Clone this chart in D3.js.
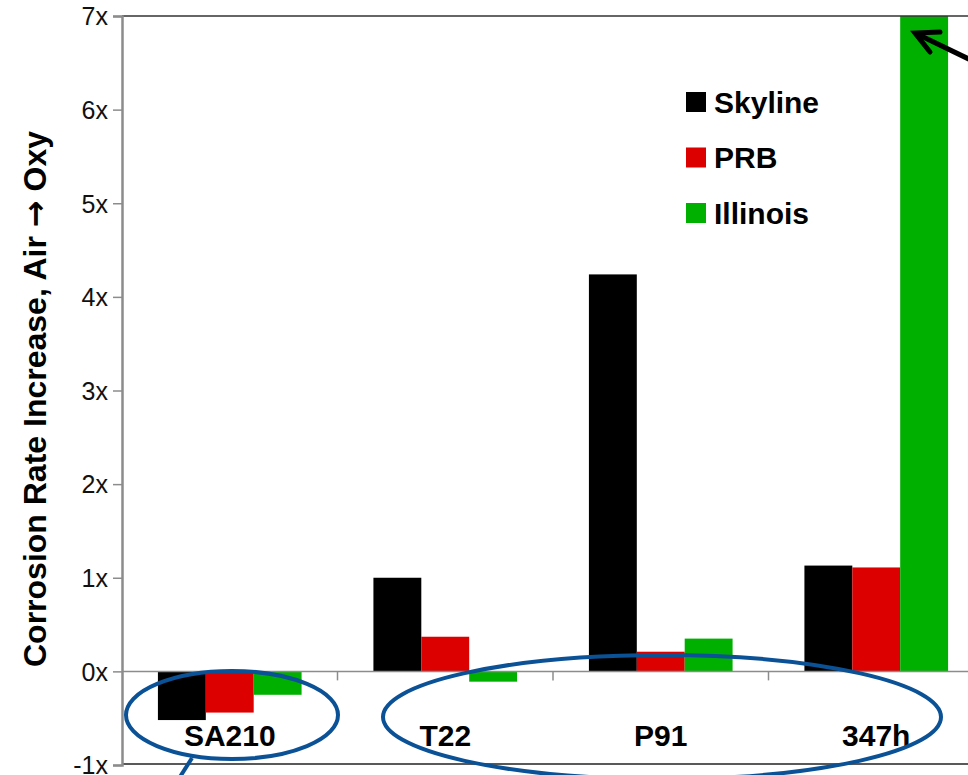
<!DOCTYPE html>
<html><head><meta charset="utf-8">
<script src="https://cdn.jsdelivr.net/npm/d3@7"></script>
<style>
html,body{margin:0;padding:0;background:#fff;}
svg{display:block;}
</style></head>
<body>
<svg id="c" width="968" height="775"></svg>
<script>
const categories = ["SA210", "T22", "P91", "347h"];
const series = ["Skyline", "PRB", "Illinois"];
const skyline = [-0.52, 1.0, 4.24, 1.13];
const prb = [-0.44, 0.37, 0.21, 1.11];
const illinois = [-0.25, -0.11, 0.35, 7.0];
const yTicks = [-1, 0, 1, 2, 3, 4, 5, 6, 7];
const colors = ["#000000", "#dd0000", "#00b000"];
const yTitleParts = ["Corrosion Rate Increase, Air ", "\u2192", " Oxy"];

const FONT = "'Liberation Sans', Arial, sans-serif";
const svg = d3.select("#c");
const m = {left: 122, top: 16, right: 984, bottom: 765};
const values = [skyline, prb, illinois];

const y = d3.scaleLinear().domain([-1, 7]).range([m.bottom, m.top]);
const x0 = d3.scaleBand().domain(categories).range([m.left, m.right]);
const x1 = d3.scaleBand().domain(series).range([0, x0.bandwidth()]).paddingOuter(0.75);
const color = d3.scaleOrdinal().domain(series).range(colors);

svg.append("defs").append("clipPath").attr("id", "clip")
  .append("rect").attr("x", m.left).attr("y", m.top).attr("width", m.right - m.left).attr("height", m.bottom - m.top);

// bars
const g = svg.append("g").attr("clip-path", "url(#clip)");
categories.forEach((c, i) => {
  series.forEach((s, j) => {
    const v = values[j][i];
    g.append("rect")
      .attr("x", x0(c) + x1(s))
      .attr("width", x1.bandwidth())
      .attr("y", y(Math.max(0, v)))
      .attr("height", Math.abs(y(v) - y(0)))
      .attr("fill", color(s));
  });
});

// frame lines
svg.append("line").attr("x1", m.left).attr("x2", 968).attr("y1", m.top).attr("y2", m.top)
  .attr("stroke", "#333").attr("stroke-width", 1.5);
svg.append("line").attr("x1", m.left).attr("x2", 968).attr("y1", m.bottom - 1).attr("y2", m.bottom - 1)
  .attr("stroke", "#222").attr("stroke-width", 1.5);

// zero line with category ticks
const zx = svg.append("g").attr("transform", `translate(0,${y(0)})`);
zx.append("line").attr("x1", m.left).attr("x2", 968).attr("stroke", "#8c8c8c").attr("stroke-width", 1.5);
categories.slice(1).forEach(c => {
  zx.append("line").attr("x1", x0(c)).attr("x2", x0(c)).attr("y1", 0).attr("y2", 9)
    .attr("stroke", "#8c8c8c").attr("stroke-width", 1.5);
});

// y axis
const yAxis = d3.axisLeft(y).tickValues(yTicks).tickFormat(d => d + "x").tickSize(9).tickPadding(5);
const ya = svg.append("g").attr("transform", `translate(${m.left},0)`).call(yAxis);
ya.select(".domain").attr("stroke", "#8c8c8c").attr("stroke-width", 2.5);
ya.selectAll(".tick line").attr("stroke", "#8c8c8c").attr("stroke-width", 1.5);
ya.selectAll(".tick text").attr("font-family", FONT)
  .attr("font-size", 25).attr("fill", "#111").attr("dy", "0.35em");

// category labels
svg.append("g").selectAll("text").data(categories).join("text")
  .attr("x", d => x0(d) + x0.bandwidth() / 2)
  .attr("y", 746)
  .attr("text-anchor", "middle")
  .attr("font-family", FONT)
  .attr("font-weight", "bold").attr("font-size", 30).attr("fill", "#000")
  .text(d => d);

// y title
const yt = svg.append("text")
  .attr("transform", `translate(46,${(130 + 668) / 2}) rotate(-90)`)
  .attr("text-anchor", "middle")
  .attr("font-family", FONT)
  .attr("font-weight", "bold").attr("font-size", 28).attr("fill", "#000");
yt.append("tspan").text(yTitleParts[0]);
yt.append("tspan").attr("font-family", "'DejaVu Sans', sans-serif").text(yTitleParts[1]);
yt.append("tspan").text(yTitleParts[2]);
const L = yt.node().getComputedTextLength();
yt.attr("font-size", Math.min(32, 28 * 538 / L));

// legend
const lg = svg.append("g");
series.forEach((s, i) => {
  const cy = 102 + i * 55.5;
  lg.append("rect").attr("x", 686).attr("y", cy - 10).attr("width", 20).attr("height", 20).attr("fill", color(s));
  lg.append("text").attr("x", 714).attr("y", cy).attr("dy", "0.36em")
    .attr("font-family", FONT)
    .attr("font-weight", "bold").attr("font-size", 30).attr("fill", "#000").text(s);
});

// annotations: blue ellipses
const blue = "#0b5196";
svg.append("ellipse").attr("cx", 232).attr("cy", 715).attr("rx", 106).attr("ry", 44)
  .attr("fill", "none").attr("stroke", blue).attr("stroke-width", 4);
svg.append("line").attr("x1", 192).attr("y1", 758).attr("x2", 178).attr("y2", 780)
  .attr("stroke", blue).attr("stroke-width", 4);
svg.append("ellipse").attr("cx", 662).attr("cy", 717).attr("rx", 279).attr("ry", 62)
  .attr("fill", "none").attr("stroke", blue).attr("stroke-width", 4);

// black arrow
svg.append("line").attr("x1", 975).attr("y1", 62).attr("x2", 917).attr("y2", 34)
  .attr("stroke", "#000").attr("stroke-width", 5);
svg.append("path").attr("d", "M940,32 L915,33 L930,52")
  .attr("fill", "none").attr("stroke", "#000").attr("stroke-width", 5)
  .attr("stroke-linejoin", "miter").attr("stroke-linecap", "round");
</script>
</body></html>
